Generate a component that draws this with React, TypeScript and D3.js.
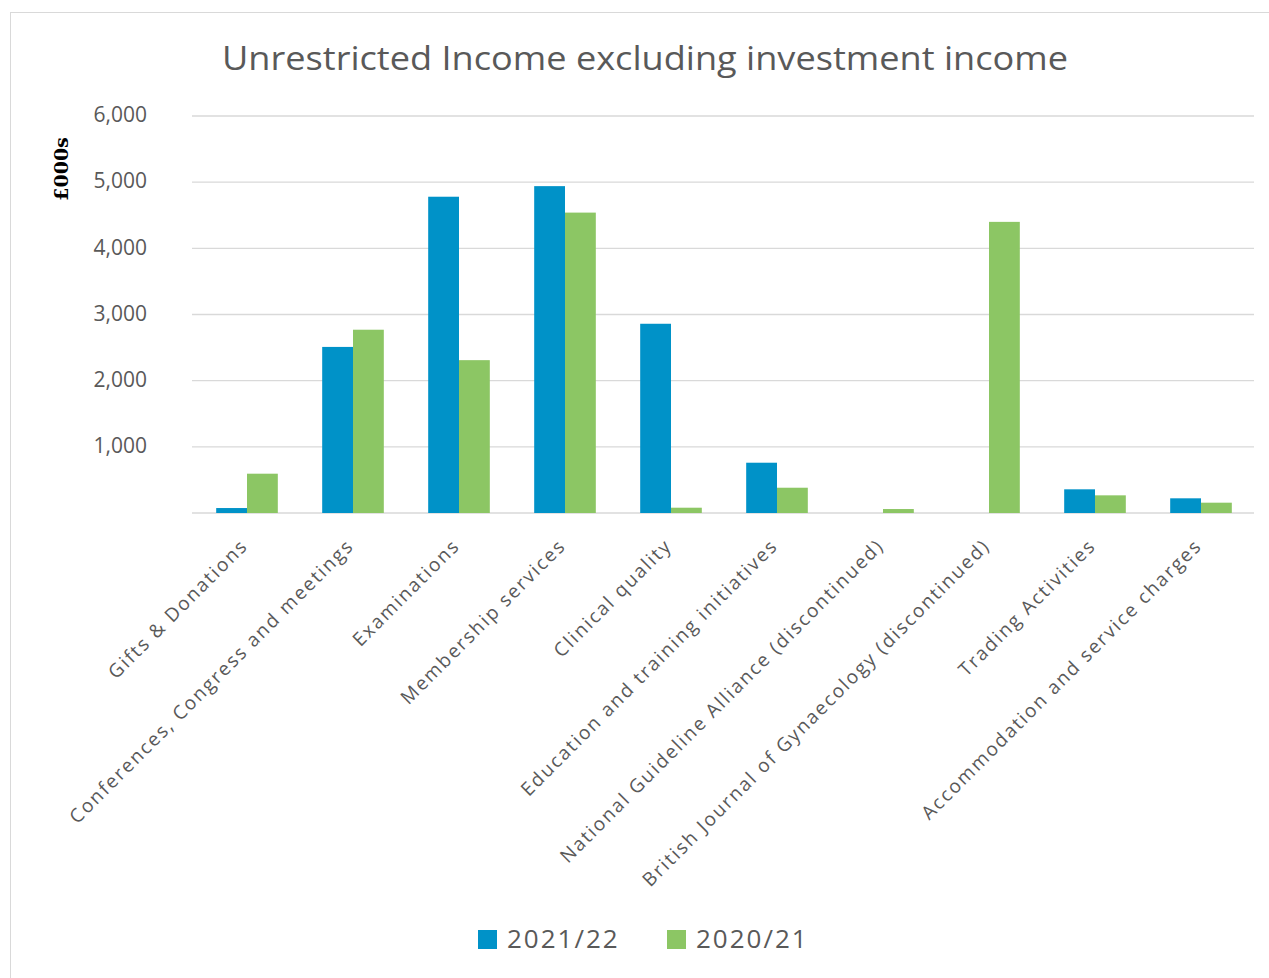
import { useEffect } from "react";
import * as d3 from "d3";

const categories = [
  "Gifts & Donations",
  "Conferences, Congress and meetings",
  "Examinations",
  "Membership services",
  "Clinical quality",
  "Education and training initiatives",
  "National Guideline Alliance (discontinued)",
  "British Journal of Gynaecology (discontinued)",
  "Trading Activities",
  "Accommodation and service charges",
];

const series = ["2021/22", "2020/21"];
const values2122 = [75, 2510, 4780, 4940, 2860, 760, 0, 0, 358, 222];
const values2021 = [594, 2770, 2310, 4540, 80, 382, 60, 4400, 267, 156];
const yTicks = [1000, 2000, 3000, 4000, 5000, 6000];

const COLORS = ["#0092c8", "#8cc664"];
const TEXT = "#595959";
const FONT = "'Open Sans', 'DejaVu Sans', sans-serif";

export default function App() {
  useEffect(() => {
    document.body.style.margin = "0";
  }, []);

  const width = 1269;
  const height = 978;
  const m = { left: 194, right: 1254, top: 116, bottom: 513 };

  const x = d3.scaleBand<string>().domain(categories).range([m.left, m.right]);
  const x1 = d3
    .scaleBand<string>()
    .domain(series)
    .range([0, x.bandwidth()])
    .paddingOuter(0.72);
  const y = d3.scaleLinear().domain([0, 6000]).range([m.bottom, m.top]);

  const rows = categories.map((c, i) => ({
    cat: c,
    vals: [values2122[i], values2021[i]],
  }));

  const fmt = d3.format(",");

  return (
    <svg width={width} height={height} style={{ display: "block" }}>
      <rect x={0} y={0} width={width} height={height} fill="#fff" />
      <rect x={10.5} y={12.5} width={width} height={height} fill="none" stroke="#d9d9d9" />

      <text
        x={645}
        y={70}
        textAnchor="middle"
        fontFamily={FONT}
        fontSize={32}
        fill={TEXT}
        textLength={846}
        lengthAdjust="spacingAndGlyphs"
      >
        Unrestricted Income excluding investment income
      </text>

      <text
        transform="translate(68,169) rotate(-90)"
        textAnchor="middle"
        fontFamily="'DejaVu Serif', 'Liberation Serif', serif"
        fontWeight="bold"
        fontSize={19}
        fill="#000"
      >
        £000s
      </text>

      {/* gridlines */}
      {[0, ...yTicks].map((t) => (
        <line
          key={t}
          x1={m.left - 2}
          x2={m.right}
          y1={y(t)}
          y2={y(t)}
          stroke="#d9d9d9"
          strokeWidth={1.3}
        />
      ))}
      {yTicks.map((t) => (
        <text
          key={t}
          x={147}
          y={y(t)}
          dy="0.3em"
          textAnchor="end"
          fontFamily={FONT}
          fontSize={21}
          fill={TEXT}
        >
          {fmt(t)}
        </text>
      ))}

      {/* bars */}
      {rows.map((r) => (
        <g key={r.cat} transform={`translate(${x(r.cat)},0)`}>
          {r.vals.map((v, j) =>
            v > 0 ? (
              <rect
                key={j}
                x={x1(series[j])}
                y={y(v)}
                width={x1.bandwidth()}
                height={y(0) - y(v)}
                fill={COLORS[j]}
              />
            ) : null
          )}
        </g>
      ))}

      {/* category labels */}
      {categories.map((c) => (
        <text
          key={c}
          transform={`translate(${(x(c) ?? 0) + x.bandwidth() / 2 + 2},${m.bottom + 34}) rotate(-45)`}
          textAnchor="end"
          fontFamily={FONT}
          fontSize={19}
          letterSpacing={1.9}
          fill={TEXT}
        >
          {c}
        </text>
      ))}

      {/* legend */}
      {series.map((s, i) => (
        <g key={s} transform={`translate(${i === 0 ? 478 : 667},930)`}>
          <rect width={19} height={19} fill={COLORS[i]} />
          <text
            x={29}
            y={18}
            fontFamily={FONT}
            fontSize={26}
            letterSpacing={2}
            fill={TEXT}
          >
            {s}
          </text>
        </g>
      ))}
    </svg>
  );
}
